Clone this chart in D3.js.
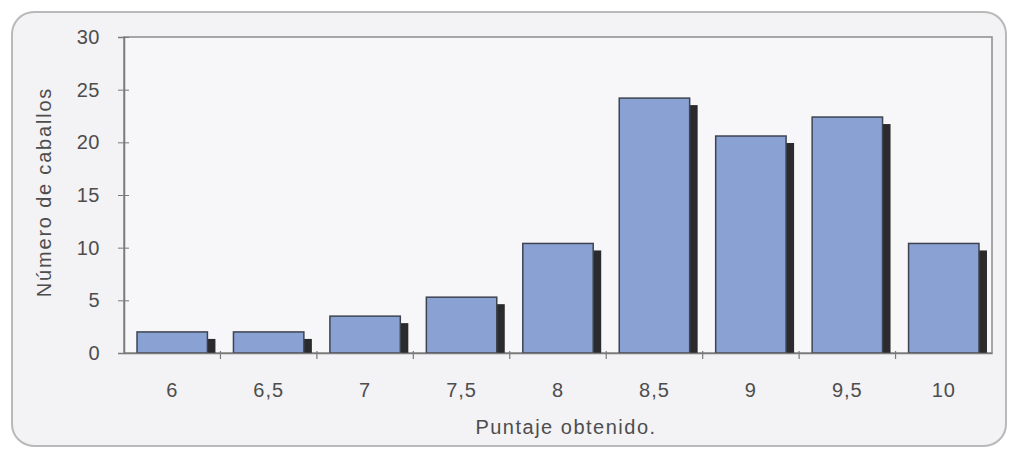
<!DOCTYPE html>
<html>
<head>
<meta charset="utf-8">
<script src="https://cdn.jsdelivr.net/npm/d3@7"></script>
<style>
  body { margin: 0; background: #ffffff; }
  text { font-family: "Liberation Sans", Arial, sans-serif; fill: #4d4d4d; }
</style>
</head>
<body>
<div id="chart"></div>
<script>
// data
const categories = ["6", "6,5", "7", "7,5", "8", "8,5", "9", "9,5", "10"];
const counts = [2, 2, 3.5, 5.3, 10.4, 24.2, 20.6, 22.4, 10.4];
const yTicks = [0, 5, 10, 15, 20, 25, 30];

const width = 1011, height = 450;
const margin = {top: 37, right: 19, bottom: 97, left: 124};

const svg = d3.select("#chart").append("svg")
    .attr("width", width)
    .attr("height", height);

// outer frame with rounded corners
svg.append("rect")
    .attr("x", 12).attr("y", 12)
    .attr("width", 994).attr("height", 434)
    .attr("rx", 22)
    .attr("fill", "#f3f2f5")
    .attr("stroke", "#b9b9b9")
    .attr("stroke-width", 2);

const x = d3.scaleBand()
    .domain(categories)
    .range([margin.left, width - margin.right])
    .paddingInner(0.27)
    .paddingOuter(0.135);

const xBand = d3.scaleBand()
    .domain(categories)
    .range([margin.left, width - margin.right]);

const y = d3.scaleLinear()
    .domain([0, 30])
    .range([height - margin.bottom, margin.top]);

// plot area
svg.append("rect")
    .attr("x", margin.left).attr("y", margin.top)
    .attr("width", width - margin.left - margin.right)
    .attr("height", height - margin.top - margin.bottom)
    .attr("fill", "#f7f6f9")
    .attr("stroke", "#8c8c8c")
    .attr("stroke-width", 1.5);

// bar shadows
svg.append("g")
    .selectAll("rect")
    .data(counts)
    .join("rect")
    .attr("x", (d, i) => x(categories[i]) + 8)
    .attr("y", d => y(d) + 7)
    .attr("width", x.bandwidth())
    .attr("height", d => Math.max(0, y(0) - y(d) - 7))
    .attr("fill", "#2b2b2e");

// bars
svg.append("g")
    .selectAll("rect")
    .data(counts)
    .join("rect")
    .attr("x", (d, i) => x(categories[i]))
    .attr("y", d => y(d))
    .attr("width", x.bandwidth())
    .attr("height", d => y(0) - y(d))
    .attr("fill", "#8aa1d4")
    .attr("stroke", "#3d4450")
    .attr("stroke-width", 1.5);

// y axis
const yAxis = svg.append("g")
    .attr("transform", `translate(${margin.left},0)`)
    .call(d3.axisLeft(y).tickValues(yTicks).tickSize(6).tickPadding(18));
yAxis.select(".domain").attr("stroke", "#7a7a7a").attr("stroke-width", 1.5);
yAxis.selectAll(".tick line").attr("stroke", "#7a7a7a").attr("x2", 5).attr("x1", -6);
yAxis.selectAll(".tick text").attr("font-size", 20).attr("letter-spacing", 0.5);

// x axis
const xAxis = svg.append("g")
    .attr("transform", `translate(0,${y(0)})`)
    .call(d3.axisBottom(xBand).tickSize(0).tickPadding(30));
xAxis.select(".domain").attr("stroke", "#7a7a7a").attr("stroke-width", 1.5);
xAxis.selectAll(".tick text").attr("font-size", 20).attr("letter-spacing", 1);

// x axis tick marks between categories
svg.append("g")
    .selectAll("line")
    .data(categories.slice(1))
    .join("line")
    .attr("x1", d => xBand(d))
    .attr("x2", d => xBand(d))
    .attr("y1", y(0) - 2)
    .attr("y2", y(0) + 6)
    .attr("stroke", "#7a7a7a")
    .attr("stroke-width", 1.2);

// axis titles
svg.append("text")
    .attr("x", 566)
    .attr("y", 434)
    .attr("text-anchor", "middle")
    .attr("font-size", 20)
    .attr("letter-spacing", 1.5)
    .text("Puntaje obtenido.");

svg.append("text")
    .attr("transform", `translate(51, 192) rotate(-90)`)
    .attr("text-anchor", "middle")
    .attr("font-size", 20)
    .attr("letter-spacing", 1.8)
    .text("Número de caballos");
</script>
</body>
</html>
